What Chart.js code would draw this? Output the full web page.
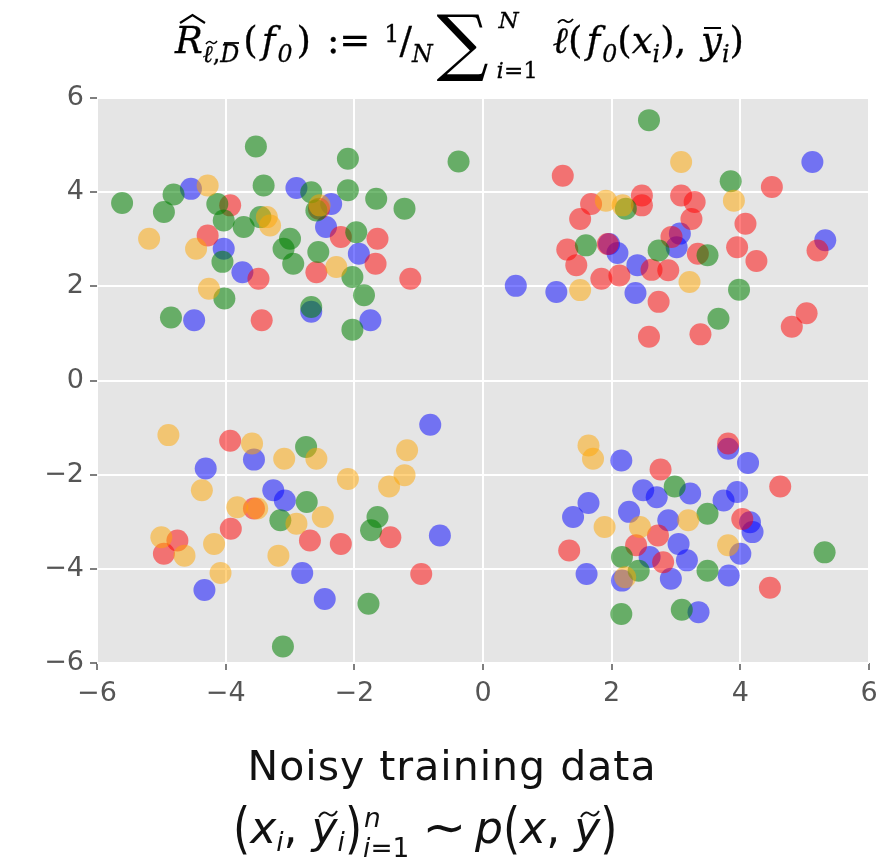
<!DOCTYPE html>
<html>
<head>
<meta charset="utf-8">
<script src="https://cdn.jsdelivr.net/npm/chart.js@4.4.1/dist/chart.umd.min.js"></script>
<style>
  html, body { margin: 0; padding: 0; background: #fff; }
  #wrap { position: relative; width: 882px; height: 860px; overflow: hidden; }
  #scatter { position: absolute; left: 0; top: 0; }

  /* formula above the plot */
  #title {
    position: absolute; left: 175px; top: 22px; line-height: 1;
    font-family: "DejaVu Serif", serif; font-size: 37px; color: #000;
    white-space: nowrap; -webkit-text-stroke: 0.3px #000;
  }
  #title i { font-style: italic; }
  .lo { font-size: 0.64em; position: relative; top: 0.36em; }
  .hi { font-size: 0.64em; position: relative; top: -0.45em; }
  .sb { margin-right: 4px; }
  .fw { margin: 0 2px 0 4px; }
  .acc { position: relative; display: inline-block; }
  .acc svg { position: absolute; left: 0; top: 0; overflow: visible; }
  .op { margin: 0 14px 0 16px; }
  .sum { display: inline-block; position: relative; width: 112px; margin-left: 4px; margin-right: 4px; }
  .sig { position: absolute; left: 0; top: -48px; font-size: 73px; line-height: 1; font-style: normal; -webkit-text-stroke: 0; }
  .sumN { position: absolute; left: 62px; top: -44px; font-size: 23px; line-height: 1; }
  .sumI { position: absolute; left: 60px; top: 6px; font-size: 23px; line-height: 1; white-space: nowrap; }
  .gap { margin-left: 3px; }

  #xlab {
    position: absolute; left: 0; width: 904px; top: 746px; text-align: center;
    font-family: "DejaVu Sans", sans-serif; font-size: 41px; letter-spacing: 1px;
    color: #111; line-height: 1;
  }
  #xlab2 {
    position: absolute; left: 233px; top: 806px; line-height: 1;
    font-family: "DejaVu Sans", sans-serif; font-size: 44px; color: #111;
    white-space: nowrap;
  }
  #xlab2 i { font-style: italic; }
  #xlab2 .lo { font-size: 0.6em; top: 0.3em; }
  .par { display: inline-block; transform: scale(1, 1.25); }
  .tilde { display: inline-block; transform: scale(1.2, 1.1); margin: 0 12px 0 6px; }
  .stk { display: inline-block; position: relative; width: 58px; }
  .stk .n { position: absolute; left: 2px; top: -38px; font-size: 0.6em; font-style: italic; line-height: 1; }
  .stk .i1 { position: absolute; left: 1px; top: -8px; font-size: 0.6em; line-height: 1; white-space: nowrap; }
</style>
</head>
<body>
<div id="wrap">
  <canvas id="scatter" width="882" height="860"></canvas>

  <div id="title"><span class="acc"><i>R</i><svg width="25" height="10" style="left:5px;top:-8px"><polyline points="0,9 12.5,1 25,9" fill="none" stroke="#000" stroke-width="2.2"/></svg></span><span class="lo sb"><span class="acc"><i>ℓ</i><svg width="11" height="5" style="left:3px;top:-3px"><path d="M0,4 Q2.75,0 5.5,2.5 T11,1" fill="none" stroke="#000" stroke-width="1.5"/></svg></span>,<span class="acc"><i>D</i><svg width="15" height="4" style="left:4px;top:-2px"><line x1="0" y1="2" x2="15" y2="2" stroke="#000" stroke-width="1.8"/></svg></span></span>(<i class="fw">f</i><span class="lo sb"><i>0</i></span>)<span class="op">:=</span><span class="hi">1</span>/<span class="lo"><i>N</i></span><span class="sum"><span class="sig">∑</span><span class="sumN"><i>N</i></span><span class="sumI"><i>i</i>=1</span></span><span class="acc"><i>ℓ</i><svg width="15" height="6" style="left:5px;top:-4px"><path d="M0,5 Q3.75,0 7.5,3 T15,1" fill="none" stroke="#000" stroke-width="1.8"/></svg></span>(<i class="fw">f</i><span class="lo"><i>0</i></span>(<i>x</i><span class="lo"><i>i</i></span>),<span class="gap"> </span><span class="acc"><i>y</i><svg width="17" height="4" style="left:3px;top:4px"><line x1="0" y1="2" x2="17" y2="2" stroke="#000" stroke-width="2"/></svg></span><span class="lo"><i>i</i></span>)</div>

  <div id="xlab">Noisy training data</div>
  <div id="xlab2"><span class="par">(</span><i>x</i><span class="lo"><i>i</i></span>, <span class="acc"><i>y</i><svg width="18" height="8" style="left:7px;top:4px"><path d="M0,7 Q4,0 9,4 T18,1" fill="none" stroke="#111" stroke-width="2"/></svg></span><span class="lo"><i>i</i></span><span class="par">)</span><span class="stk"><span class="n">n</span><span class="i1"><i>i</i>=1</span></span><span class="tilde">∼</span><i>p</i><span class="par">(</span><i>x</i>, <span class="acc"><i>y</i><svg width="18" height="8" style="left:7px;top:4px"><path d="M0,7 Q4,0 9,4 T18,1" fill="none" stroke="#111" stroke-width="2"/></svg></span><span class="par">)</span></div>
</div>

<script>
// ===== Data =====

const xTicks = [-6, -4, -2, 0, 2, 4, 6];
const yTicks = [-6, -4, -2, 0, 2, 4, 6];

const orangePts = [
  [-5.19, 3.01], [-4.28, 4.14], [-4.46, 2.80], [-3.31, 3.29], [-3.36, 3.47],
  [-2.54, 3.72], [-2.28, 2.41], [-4.26, 1.95],
  [1.91, 3.82], [3.08, 4.64], [3.90, 3.82], [1.51, 1.92], [3.21, 2.09], [2.17, 3.72],
  [-4.89, -1.16], [-3.59, -1.34], [-3.09, -1.66], [-2.59, -1.66], [-2.10, -2.09],
  [-1.18, -1.48], [-1.22, -2.01], [-1.46, -2.25], [-4.37, -2.33], [-3.82, -2.69],
  [-3.51, -2.72], [-2.90, -3.04], [-2.49, -2.90], [-5.00, -3.33], [-4.64, -3.72],
  [-4.18, -3.47], [-3.18, -3.72], [-4.08, -4.09],
  [1.64, -1.38], [1.71, -1.66], [1.89, -3.11], [2.44, -3.11], [3.19, -2.97],
  [3.81, -3.50], [2.21, -4.18]
];

const greenPts = [
  [-3.53, 4.97], [-2.10, 4.71], [-0.38, 4.65], [-3.41, 4.14], [-2.10, 4.04],
  [-5.61, 3.77], [-4.81, 3.95], [-4.96, 3.58], [-1.66, 3.86], [-1.22, 3.65],
  [-2.67, 4.00], [-4.13, 3.75], [-4.03, 3.40], [-3.72, 3.26], [-3.46, 3.47],
  [-3.00, 3.01], [-3.10, 2.80], [-2.95, 2.48], [-2.56, 2.73], [-2.59, 3.61],
  [-1.97, 3.15], [-2.03, 2.20], [-1.85, 1.81], [-4.05, 2.52], [-4.02, 1.74],
  [-4.85, 1.34], [-2.67, 1.56], [-2.03, 1.08],
  [2.58, 5.53], [3.85, 4.23], [2.22, 3.65], [1.60, 2.87], [2.73, 2.76],
  [3.49, 2.66], [3.98, 1.93], [3.66, 1.31],
  [-2.75, -1.41], [-2.74, -2.58], [-3.15, -2.97], [-1.64, -2.90], [-1.74, -3.18],
  [-1.78, -4.74], [-3.11, -5.65],
  [2.98, -2.25], [3.49, -2.83], [2.16, -3.75], [2.42, -4.04], [3.49, -4.04],
  [5.31, -3.65], [2.15, -4.96], [3.09, -4.87]
];

const redPts = [
  [-3.93, 3.72], [-4.28, 3.08], [-3.49, 2.16], [-3.44, 1.28], [-2.21, 3.05],
  [-1.64, 3.01], [-1.67, 2.48], [-1.13, 2.16], [-2.59, 2.30], [-2.55, 3.65],
  [1.24, 4.35], [1.68, 3.75], [1.51, 3.43], [2.47, 3.93], [2.47, 3.72],
  [3.08, 3.93], [3.29, 3.79], [3.24, 3.43], [4.49, 4.11], [4.08, 3.33],
  [3.95, 2.83], [4.25, 2.54], [1.31, 2.78], [1.45, 2.45], [1.84, 2.16],
  [2.12, 2.23], [1.94, 2.90], [2.62, 2.35], [2.88, 2.34], [2.93, 3.05],
  [3.34, 2.69], [2.73, 1.67], [2.58, 0.93], [3.38, 0.98], [5.03, 1.43],
  [4.80, 1.14], [5.20, 2.76],
  [-3.93, -1.28], [-3.56, -2.72], [-3.92, -3.15], [-4.75, -3.40], [-4.96, -3.68],
  [-2.69, -3.40], [-2.21, -3.47], [-1.44, -3.33], [-0.96, -4.11],
  [3.81, -1.34], [2.76, -1.89], [4.62, -2.25], [4.03, -2.94], [1.34, -3.61],
  [2.38, -3.50], [2.72, -3.29], [2.80, -3.86], [4.46, -4.40]
];

const bluePts = [
  [-4.54, 4.07], [-2.90, 4.09], [-2.36, 3.75], [-2.44, 3.26], [-4.03, 2.80],
  [-3.74, 2.30], [-1.93, 2.69], [-4.49, 1.28], [-2.67, 1.46], [-1.75, 1.28],
  [5.12, 4.64], [5.32, 2.98], [0.51, 2.01], [1.14, 1.88], [2.37, 1.86],
  [2.40, 2.45], [2.09, 2.71], [3.06, 3.12], [3.01, 2.83], [1.96, 2.90],
  [-0.82, -0.94], [-4.31, -1.87], [-3.56, -1.68], [-3.26, -2.33], [-3.08, -2.55],
  [-0.67, -3.29], [-2.81, -4.09], [-2.46, -4.64], [-4.33, -4.45],
  [2.15, -1.70], [4.12, -1.75], [3.81, -1.45], [1.64, -2.60], [1.40, -2.90],
  [2.27, -2.79], [2.49, -2.33], [2.70, -2.48], [3.22, -2.40], [3.74, -2.55],
  [3.95, -2.37], [2.88, -2.97], [3.04, -3.47], [3.17, -3.82], [4.15, -3.01],
  [4.19, -3.22], [4.00, -3.68], [3.82, -4.14], [2.92, -4.21], [2.59, -3.75],
  [1.61, -4.11], [3.35, -4.92], [2.16, -4.25]
];

// ===== Helpers =====

function toXY(pts) {
  return pts.map(function (p) { return { x: p[0], y: p[1] }; });
}

function minusSign(value) {
  return String(value).replace("-", "\u2212");
}

function makeSet(pts, color) {
  return {
    data: toXY(pts),
    backgroundColor: color,
    borderWidth: 0,
    pointRadius: 11,
    pointHoverRadius: 11
  };
}

// gray ggplot-style panel behind the points
const panelBackground = {
  id: "panelBackground",
  beforeDraw: function (chart) {
    const a = chart.chartArea;
    const ctx = chart.ctx;
    ctx.save();
    ctx.fillStyle = "#e5e5e5";
    ctx.fillRect(a.left, a.top, a.right - a.left, a.bottom - a.top);
    ctx.restore();
  }
};

function axisOptions(ticks, isX) {
  return {
    type: "linear",
    min: ticks[0],
    max: ticks[ticks.length - 1],
    afterBuildTicks: function (scale) {
      scale.ticks = ticks.map(function (v) { return { value: v }; });
    },
    afterFit: function (scale) {
      // fixed axis box, no extra room for overflowing end labels
      scale.paddingLeft = 0;
      scale.paddingRight = 0;
      scale.paddingTop = 0;
      scale.paddingBottom = 0;
      if (isX) {
        scale.height = 50;
      } else {
        scale.width = 97;
      }
    },
    ticks: {
      color: "#555",
      padding: isX ? 8 : 6,
      font: { family: "DejaVu Sans", size: 27 },
      callback: function (value) { return minusSign(value); }
    },
    grid: {
      color: "#ffffff",
      lineWidth: 2,
      tickLength: 7,
      tickColor: "#555",
      tickWidth: 1.5
    },
    border: { display: false }
  };
}

document.addEventListener("DOMContentLoaded", function () {
  const ctx = document.getElementById("scatter");

  new Chart(ctx, {
    type: "scatter",
    data: {
      datasets: [
        makeSet(orangePts, "rgba(255, 165, 0, 0.5)"),
        makeSet(greenPts, "rgba(0, 128, 0, 0.55)"),
        makeSet(redPts, "rgba(255, 0, 0, 0.5)"),
        makeSet(bluePts, "rgba(0, 0, 255, 0.5)")
      ]
    },
    options: {
      responsive: false,
      animation: false,
      devicePixelRatio: 1,
      layout: {
        autoPadding: false,
        padding: { top: 98, right: 13, bottom: 147, left: 0 }
      },
      plugins: {
        legend: { display: false },
        tooltip: { enabled: false }
      },
      scales: {
        x: axisOptions(xTicks, true),
        y: axisOptions(yTicks, false)
      }
    },
    plugins: [panelBackground]
  });
});
</script>
</body>
</html>
